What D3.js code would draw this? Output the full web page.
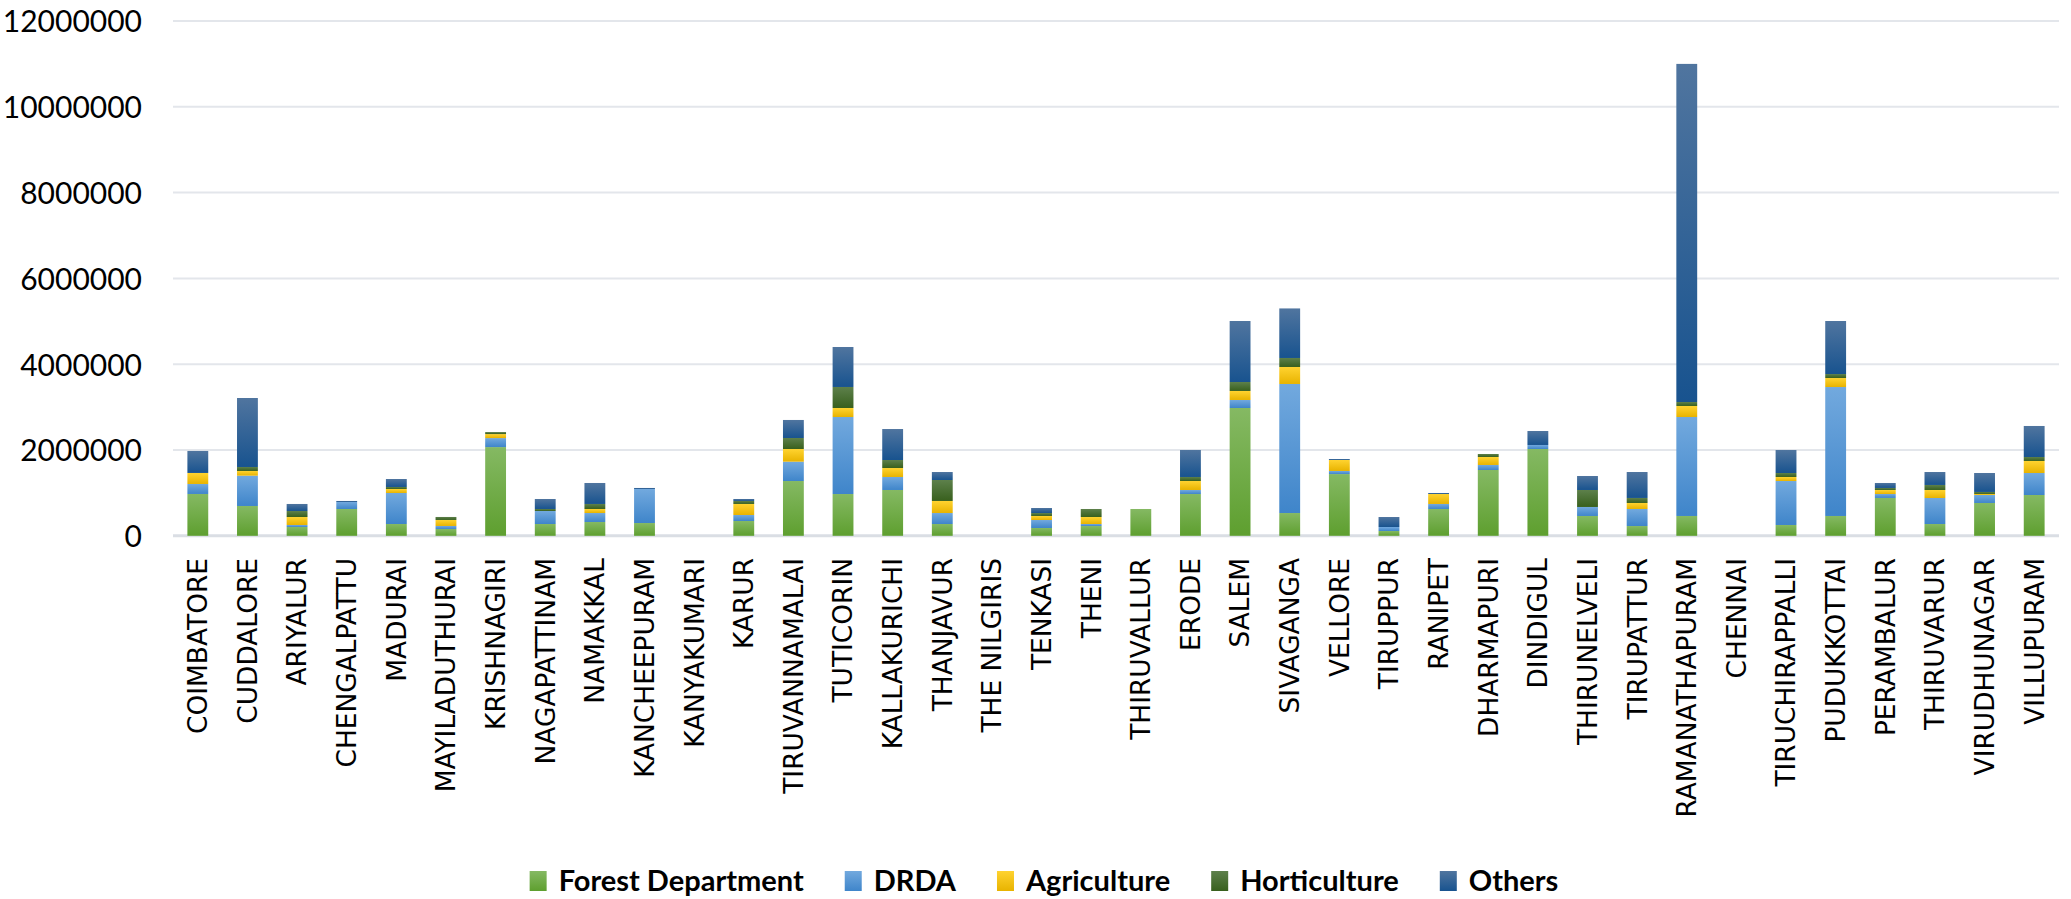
<!DOCTYPE html>
<html>
<head>
<meta charset="utf-8">
<script src="https://cdn.jsdelivr.net/npm/d3@7"></script>
<style>
  html, body { margin: 0; padding: 0; background: #ffffff; }
  svg { display: block; }
  .xlab { font-family: "DejaVu Sans", "Open Sans", sans-serif; }
</style>
</head>
<body>
<svg id="chart" width="2071" height="899"></svg>
<script>
// District-wise plantation counts by agency
const districts = [
  "COIMBATORE", "CUDDALORE", "ARIYALUR", "CHENGALPATTU", "MADURAI", "MAYILADUTHURAI",
  "KRISHNAGIRI", "NAGAPATTINAM", "NAMAKKAL", "KANCHEEPURAM", "KANYAKUMARI", "KARUR",
  "TIRUVANNAMALAI", "TUTICORIN", "KALLAKURICHI", "THANJAVUR", "THE NILGIRIS", "TENKASI",
  "THENI", "THIRUVALLUR", "ERODE", "SALEM", "SIVAGANGA", "VELLORE", "TIRUPPUR", "RANIPET",
  "DHARMAPURI", "DINDIGUL", "THIRUNELVELI", "TIRUPATTUR", "RAMANATHAPURAM", "CHENNAI",
  "TIRUCHIRAPPALLI", "PUDUKKOTTAI", "PERAMBALUR", "THIRUVARUR", "VIRUDHUNAGAR", "VILLUPURAM"
];

const forestDepartment = [
  975000, 695000, 205000, 625000, 275000, 159000,
  2068000, 275000, 322000, 298000, 0, 345000,
  1277000, 974000, 1068000, 275000, 0, 182000,
  228000, 625000, 974000, 2979000, 531000, 1439000, 112000, 625000,
  1534000, 2023000, 462000, 228000, 462000, 0,
  252000, 462000, 882000, 275000, 765000, 951000
];

const drda = [
  233000, 707000, 47000, 163000, 723000, 70000,
  210000, 303000, 209000, 793000, 0, 140000,
  451000, 1795000, 303000, 256000, 0, 186000,
  47000, 0, 94000, 187000, 3008000, 72000, 93000, 117000,
  117000, 94000, 210000, 397000, 2307000, 0,
  1025000, 3006000, 92000, 606000, 186000, 513000
];

const agriculture = [
  257000, 109000, 186000, 0, 93000, 140000,
  93000, 0, 94000, 0, 0, 257000,
  295000, 210000, 209000, 281000, 0, 94000,
  163000, 0, 209000, 210000, 396000, 256000, 0, 232000,
  186000, 0, 0, 140000, 257000, 0,
  94000, 210000, 94000, 187000, 24000, 280000
];

const horticulture = [
  0, 93000, 140000, 0, 47000, 70000,
  47000, 47000, 117000, 0, 0, 70000,
  257000, 490000, 187000, 489000, 0, 69000,
  187000, 0, 94000, 209000, 210000, 0, 0, 0,
  70000, 0, 396000, 117000, 93000, 0,
  93000, 93000, 47000, 117000, 47000, 93000
];

const others = [
  513000, 1608000, 164000, 24000, 186000, 0,
  0, 233000, 489000, 24000, 0, 46000,
  420000, 932000, 722000, 186000, 0, 117000,
  0, 0, 629000, 1422000, 1155000, 23000, 233000, 24000,
  0, 326000, 326000, 605000, 7881000, 0,
  536000, 1236000, 116000, 302000, 442000, 723000
];

const seriesNames = ["Forest Department", "DRDA", "Agriculture", "Horticulture", "Others"];
const seriesValues = [forestDepartment, drda, agriculture, horticulture, others];
const yTicks = [0, 2000000, 4000000, 6000000, 8000000, 10000000, 12000000];

// Top / bottom gradient stops per series
const gradientStops = [
  ["#85b963", "#5e9f2f"],
  ["#72a9de", "#3f85ca"],
  ["#ffd330", "#e8b300"],
  ["#5d804b", "#38601d"],
  ["#50759f", "#18538f"]
];

const svg = d3.select("#chart");
const margin = { left: 173, right: 12 };
const width = 2071;
const plotRight = width - margin.right;
const yZero = 535.8;

const rows = districts.map((d, i) => {
  const r = { district: d };
  seriesNames.forEach((s, k) => { r[s] = seriesValues[k][i]; });
  return r;
});

const x = d3.scaleBand()
  .domain(districts)
  .range([margin.left, plotRight])
  .paddingInner(0.58)
  .paddingOuter(0.29);

const y = d3.scaleLinear()
  .domain([0, 12000000])
  .range([yZero, yZero - 12 * 42.9]);

// Gradients
const defs = svg.append("defs");
seriesNames.forEach((s, k) => {
  const g = defs.append("linearGradient")
    .attr("id", "grad" + k)
    .attr("x1", 0).attr("y1", 0).attr("x2", 0).attr("y2", 1);
  g.append("stop").attr("offset", "0%").attr("stop-color", gradientStops[k][0]);
  g.append("stop").attr("offset", "100%").attr("stop-color", gradientStops[k][1]);
});

// Gridlines
svg.append("g")
  .selectAll("line")
  .data(yTicks)
  .join("line")
  .attr("x1", margin.left)
  .attr("x2", plotRight)
  .attr("y1", d => y(d))
  .attr("y2", d => y(d))
  .attr("stroke", d => d === 0 ? "#dadee4" : "#e3e6eb")
  .attr("stroke-width", d => d === 0 ? 3 : 2);

// Y axis labels
const yAxis = d3.axisLeft(y)
  .tickValues(yTicks)
  .tickFormat(d3.format("d"))
  .tickSize(0)
  .tickPadding(0);
const yg = svg.append("g")
  .attr("transform", `translate(${margin.left - 31},0)`)
  .call(yAxis);
yg.select(".domain").remove();
yg.selectAll("text")
  .attr("font-family", "Lato, 'Open Sans', sans-serif")
  .attr("font-size", 30)
  .attr("fill", "#000000")
  .attr("dy", "0.36em");

// Stacked bars
const stack = d3.stack().keys(seriesNames);
const stacked = stack(rows);

svg.append("g")
  .selectAll("g")
  .data(stacked)
  .join("g")
  .attr("fill", (d, k) => `url(#grad${k})`)
  .selectAll("rect")
  .data(d => d.filter(p => p[1] - p[0] > 0))
  .join("rect")
  .attr("x", p => x(p.data.district))
  .attr("width", x.bandwidth())
  .attr("y", p => y(p[1]))
  .attr("height", p => y(p[0]) - y(p[1]));

// X axis labels (rotated); widened so the caps run as broad as a Verdana-style face
const xg = svg.append("g");
const xLabels = xg.selectAll("text")
  .data(districts)
  .join("text")
  .attr("class", "xlab")
  .attr("transform", d => `translate(${x(d) + x.bandwidth() / 2},558) rotate(-90)`)
  .attr("text-anchor", "end")
  .attr("dy", "0.36em")
  .attr("font-size", 26)
  .attr("fill", "#000000")
  .text(d => d);

const refLen = xLabels.filter(d => d === "COIMBATORE").node().getComputedTextLength();
const widen = Math.max(1, 176 / refLen);
xLabels.each(function () {
  const len = this.getComputedTextLength();
  d3.select(this)
    .attr("textLength", len * widen)
    .attr("lengthAdjust", "spacingAndGlyphs");
});

// Legend
const legend = svg.append("g");
const items = legend.selectAll("g")
  .data(seriesNames)
  .join("g");
items.append("rect")
  .attr("width", 17)
  .attr("height", 20)
  .attr("y", 871)
  .attr("fill", (d, k) => `url(#grad${k})`);
items.append("text")
  .attr("x", 29)
  .attr("y", 891)
  .attr("font-family", "Lato, sans-serif")
  .attr("font-weight", "bold")
  .attr("font-size", 29)
  .attr("fill", "#000000")
  .text(d => d);

let cursor = 0;
const offsets = [];
items.each(function () {
  const tw = d3.select(this).select("text").node().getComputedTextLength();
  offsets.push(cursor);
  cursor += 29 + tw + 41;
});
const totalW = cursor - 41;
const startX = 1044 - totalW / 2;
items.attr("transform", (d, i) => `translate(${startX + offsets[i]},0)`);
</script>
</body>
</html>
